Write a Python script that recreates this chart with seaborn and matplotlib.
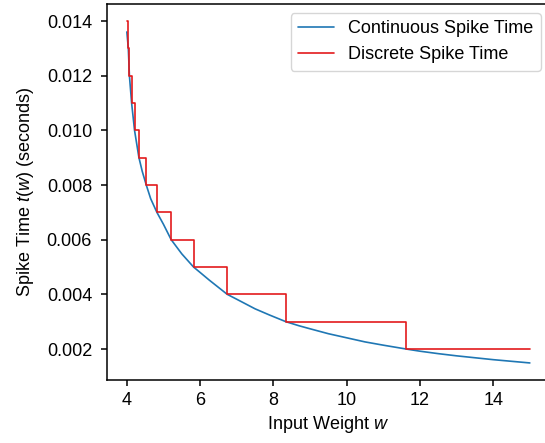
import matplotlib
matplotlib.use("Agg")
import matplotlib.pyplot as plt
import seaborn as sns
import pandas as pd

# Continuous spike time curve
w_cont = [4.00, 4.02, 4.04, 4.07, 4.13, 4.21, 4.27, 4.33, 4.42, 4.53, 4.65, 4.82,
          5.00, 5.21, 5.50, 5.82, 6.00, 6.25, 6.74, 7.00, 7.50, 7.90, 8.34, 8.70,
          9.00, 9.50, 10.00, 10.50, 11.00, 11.62, 12.00, 12.50, 13.00, 13.50,
          14.00, 14.50, 15.00]
t_cont = [0.01360, 0.01330, 0.01300, 0.01200, 0.01100, 0.01000, 0.00950, 0.00900,
          0.00850, 0.00800, 0.00750, 0.00700, 0.00656, 0.00600, 0.00548, 0.00500,
          0.00480, 0.00452, 0.00400, 0.00382, 0.00347, 0.00324, 0.00300, 0.00285,
          0.00274, 0.00256, 0.00241, 0.00226, 0.00214, 0.00200, 0.00192, 0.00183,
          0.00175, 0.00168, 0.00161, 0.00155, 0.00149]

# Discrete spike time (step breakpoints and levels)
w_disc = [4.00, 4.04, 4.07, 4.13, 4.21, 4.33, 4.53, 4.82, 5.21, 5.82, 6.74, 8.34,
          11.62, 15.00]
t_disc = [0.014, 0.013, 0.012, 0.011, 0.010, 0.009, 0.008, 0.007, 0.006, 0.005,
          0.004, 0.003, 0.002, 0.002]

x_ticks = [4, 6, 8, 10, 12, 14]
y_ticks = [0.002, 0.004, 0.006, 0.008, 0.010, 0.012, 0.014]

FS = 13

sns.set_style("ticks")
plt.rcParams["font.family"] = ["Liberation Sans", "DejaVu Sans"]
plt.rcParams["font.size"] = FS
plt.rcParams["mathtext.fontset"] = "custom"
plt.rcParams["mathtext.rm"] = "Liberation Sans"
plt.rcParams["mathtext.it"] = "Liberation Sans:italic"
plt.rcParams["axes.edgecolor"] = "black"
plt.rcParams["xtick.color"] = "black"
plt.rcParams["ytick.color"] = "black"
plt.rcParams["axes.labelcolor"] = "black"
plt.rcParams["text.color"] = "black"

df_c = pd.DataFrame({"w": w_cont, "t": t_cont})
df_d = pd.DataFrame({"w": w_disc, "t": t_disc})

fig = plt.figure(figsize=(5.45, 4.43), dpi=100)
ax = fig.add_axes([106.7 / 545, 63 / 443, (550 - 106.7) / 545, 376 / 443])

sns.lineplot(data=df_c, x="w", y="t", ax=ax, color="#1f77b4", linewidth=1.2,
             label="Continuous Spike Time")
sns.lineplot(data=df_d, x="w", y="t", ax=ax, color="#e31a1c", linewidth=1.2,
             drawstyle="steps-post", label="Discrete Spike Time")

ax.set_xlim(3.45, 15.55)
ax.set_ylim(0.000866, 0.014622)
ax.set_xticks(x_ticks)
ax.set_xticklabels([str(v) for v in x_ticks])
ax.set_yticks(y_ticks)
ax.set_yticklabels([f"{v:.3f}" for v in y_ticks])
ax.set_xlabel("Input Weight $w$", fontsize=FS, labelpad=4)
ax.set_ylabel("Spike Time $t(w)$ (seconds)", fontsize=FS, labelpad=8)
for s in ax.spines.values():
    s.set_visible(True)
    s.set_linewidth(1.1)
ax.tick_params(labelsize=FS, length=4.5, width=1.1)
ax.tick_params(axis="y", pad=6)
ax.tick_params(axis="x", pad=4)
ax.legend(loc="upper right", fontsize=FS, frameon=True)

fig.savefig("out.png", dpi=100)
